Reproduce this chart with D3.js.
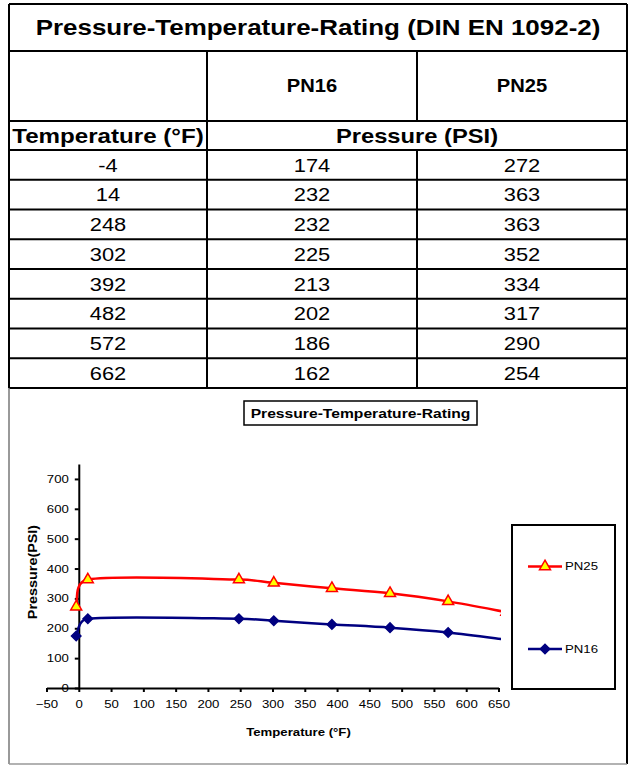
<!DOCTYPE html>
<meta charset="utf-8">
<head>
<style type='text/css'>
  body {
    margin: 0;
    background: #fff;
    font-family: 'Liberation Sans', Arial, sans-serif;
  }
  .grid line, .grid rect {
    stroke: #000;
    stroke-width: 2;
    fill: none;
  }
  .axis path, .axis line {
    stroke: #000;
    stroke-width: 2;
  }
  .axis text {
    font-size: 11px;
    fill: #000;
  }
</style>
</head>
<body>
<script src="https://d3js.org/d3.v7.min.js"></script>
<script>
// table / chart data
var temps = [-4, 14, 248, 302, 392, 482, 572, 662];
var pn16 = [174, 232, 232, 225, 213, 202, 186, 162];
var pn25 = [272, 363, 363, 352, 334, 317, 290, 254];
var seriesNames = ["PN16", "PN25"];
var xTicks = [-50, 0, 50, 100, 150, 200, 250, 300, 350, 400, 450, 500, 550, 600, 650];
var yTicks = [0, 100, 200, 300, 400, 500, 600, 700];

var width = 633,
    height = 767;

// excel picture looks stretched sideways, so text gets a little x scale
var sx = 1.2;

var svg = d3.select("body").append("svg")
    .attr("width", width)
    .attr("height", height);

svg.append("rect").attr("width", width).attr("height", height).attr("fill", "#fff");

// column and row edges of the table
var colX = [9, 207, 417, 627];
var rowY = [4, 51, 121, 150];
var rowH = 29.75;
temps.forEach(function(d, i) { rowY.push(150 + (i + 1) * rowH); });
var chartBottom = 764;

function label(g, x, y, txt, size, bold, scaleX) {
  return g.append("text")
      .attr("transform", "translate(" + x + "," + y + ") scale(" + (scaleX || sx) + ",1)")
      .attr("text-anchor", "middle")
      .attr("dy", "0.35em")
      .attr("font-size", size + "px")
      .attr("font-weight", bold ? "bold" : "normal")
      .text(txt);
}

// grid lines
var grid = svg.append("g").attr("class", "grid");
rowY.forEach(function(y, i) {
  grid.append("line").attr("x1", colX[0]).attr("x2", colX[3]).attr("y1", y).attr("y2", y);
});
// vertical lines, skipping the title row and the merged pressure cell
grid.append("line").attr("x1", colX[1]).attr("x2", colX[1]).attr("y1", rowY[1]).attr("y2", rowY[rowY.length - 1]);
grid.append("line").attr("x1", colX[2]).attr("x2", colX[2]).attr("y1", rowY[1]).attr("y2", rowY[2]);
grid.append("line").attr("x1", colX[2]).attr("x2", colX[2]).attr("y1", rowY[3]).attr("y2", rowY[rowY.length - 1]);
grid.append("line").attr("x1", colX[0]).attr("x2", colX[0]).attr("y1", rowY[0]).attr("y2", rowY[rowY.length - 1]);
grid.append("line").attr("x1", colX[3]).attr("x2", colX[3]).attr("y1", rowY[0]).attr("y2", chartBottom);
// chart cell edges are thinner and grey
svg.append("line").attr("x1", colX[0]).attr("x2", colX[0]).attr("y1", rowY[rowY.length - 1]).attr("y2", chartBottom)
    .attr("stroke", "#777").attr("stroke-width", 1.5);
svg.append("line").attr("x1", colX[0]).attr("x2", colX[3]).attr("y1", chartBottom).attr("y2", chartBottom)
    .attr("stroke", "#999").attr("stroke-width", 1.5);

// table texts
var tbl = svg.append("g").attr("fill", "#000");
label(tbl, (colX[0] + colX[3]) / 2, (rowY[0] + rowY[1]) / 2, "Pressure-Temperature-Rating (DIN EN 1092-2)", 22, true, 1.18);
seriesNames.forEach(function(s, i) {
  label(tbl, (colX[i + 1] + colX[i + 2]) / 2, (rowY[1] + rowY[2]) / 2, s, 18, true, 1.12);
});
label(tbl, (colX[0] + colX[1]) / 2, (rowY[2] + rowY[3]) / 2, "Temperature (°F)", 21, true, 1.15);
label(tbl, (colX[1] + colX[3]) / 2, (rowY[2] + rowY[3]) / 2, "Pressure (PSI)", 21, true, 1.13);
temps.forEach(function(t, i) {
  var cy = (rowY[3 + i] + rowY[4 + i]) / 2;
  label(tbl, (colX[0] + colX[1]) / 2, cy, t, 19, false, 1.15);
  label(tbl, (colX[1] + colX[2]) / 2, cy, pn16[i], 19, false, 1.15);
  label(tbl, (colX[2] + colX[3]) / 2, cy, pn25[i], 19, false, 1.15);
});

// ---- chart ----
var x = d3.scaleLinear().domain([-50, 650]).range([46.5, 498.5]);
var y = d3.scaleLinear().domain([0, 750]).range([688, 464]);

var chart = svg.append("g");

// chart title box
chart.append("rect")
    .attr("x", 244).attr("y", 401).attr("width", 233).attr("height", 24)
    .attr("fill", "#fff").attr("stroke", "#000").attr("stroke-width", 1.5);
label(chart, 360.5, 413, "Pressure-Temperature-Rating", 13.5, true, 1.16);

chart.append("defs").append("clipPath").attr("id", "plot")
  .append("rect").attr("x", 30).attr("y", 440).attr("width", 471).attr("height", 260);

var xAxis = chart.append("g")
    .attr("class", "axis")
    .attr("transform", "translate(0," + y(0) + ")")
    .call(d3.axisBottom(x).tickValues(xTicks).tickSizeInner(4).tickSizeOuter(0).tickPadding(8));

var yAxis = chart.append("g")
    .attr("class", "axis")
    .attr("transform", "translate(" + x(0) + ",0)")
    .call(d3.axisLeft(y).tickValues(yTicks).tickSizeInner(4).tickSizeOuter(0).tickPadding(6));

chart.selectAll(".axis text")
    .attr("transform", "scale(" + sx + ",1)")
    .attr("x", function() { return +d3.select(this).attr("x") / sx; });
xAxis.selectAll(".tick text").attr("x", 0);

label(chart, 298.5, 732, "Temperature (°F)", 11, true);
chart.append("text")
    .attr("transform", "translate(33,572) rotate(-90) scale(1.15,1)")
    .attr("text-anchor", "middle")
    .attr("dy", "0.35em")
    .attr("font-size", "12.5px")
    .attr("font-weight", "bold")
    .text("Pressure(PSI)");

// excel style smoothing: bezier with 1/6 tangents, shortened on short segments
function dist(a, b) { return Math.hypot(b[0] - a[0], b[1] - a[1]); }
function excelSmooth(context) {
  var pts;
  return {
    areaStart: function() {},
    areaEnd: function() {},
    lineStart: function() { pts = []; },
    point: function(px, py) { pts.push([+px, +py]); },
    lineEnd: function() {
      var n = pts.length;
      if (!n) return;
      context.moveTo(pts[0][0], pts[0][1]);
      for (var i = 0; i < n - 1; i++) {
        var p0 = pts[Math.max(i - 1, 0)], p1 = pts[i], p2 = pts[i + 1], p3 = pts[Math.min(i + 2, n - 1)];
        var d12 = dist(p1, p2), d02 = dist(p0, p2), d13 = dist(p1, p3);
        var f0 = (d02 / 6 < d12 / 2 || !d02) ? 1 / 6 : (d12 / 2) / d02;
        var f1 = (d13 / 6 < d12 / 2 || !d13) ? 1 / 6 : (d12 / 2) / d13;
        context.bezierCurveTo(
          p1[0] + (p2[0] - p0[0]) * f0, p1[1] + (p2[1] - p0[1]) * f0,
          p2[0] - (p3[0] - p1[0]) * f1, p2[1] - (p3[1] - p1[1]) * f1,
          p2[0], p2[1]);
      }
    }
  };
}

var line = d3.line()
    .x(function(d) { return x(d[0]); })
    .y(function(d) { return y(d[1]); })
    .curve(excelSmooth);

var series = [
  {name: "PN16", values: d3.zip(temps, pn16), color: "#000080", fill: "#000080", shape: d3.symbolSquare, size: 45, rot: 45},
  {name: "PN25", values: d3.zip(temps, pn25), color: "#ff0000", fill: "#ffff00", shape: d3.symbolTriangle, size: 52, rot: 0}
];

var plot = chart.append("g").attr("clip-path", "url(#plot)");

series.forEach(function(s) {
  plot.append("path")
      .datum(s.values)
      .attr("fill", "none")
      .attr("stroke", s.color)
      .attr("stroke-width", 2.5)
      .attr("d", line);

  plot.selectAll(null)
      .data(s.values)
    .enter().append("path")
      .attr("transform", function(d) { return "translate(" + x(d[0]) + "," + y(d[1]) + ") rotate(" + s.rot + ")"; })
      .attr("d", d3.symbol().type(s.shape).size(s.size))
      .attr("fill", s.fill)
      .attr("stroke", s.color)
      .attr("stroke-width", 1.5);
});

// legend
var legend = chart.append("g");
legend.append("rect")
    .attr("x", 512).attr("y", 525).attr("width", 103).attr("height", 164)
    .attr("fill", "#fff").attr("stroke", "#000").attr("stroke-width", 2);

var legendY = {PN25: 566.5, PN16: 649};
series.forEach(function(s) {
  var ly = legendY[s.name];
  legend.append("line")
      .attr("x1", 528).attr("x2", 562).attr("y1", ly).attr("y2", ly)
      .attr("stroke", s.color).attr("stroke-width", 2.5);
  legend.append("path")
      .attr("transform", "translate(545," + ly + ") rotate(" + s.rot + ")")
      .attr("d", d3.symbol().type(s.shape).size(s.size))
      .attr("fill", s.fill)
      .attr("stroke", s.color)
      .attr("stroke-width", 1.5);
  legend.append("text")
      .attr("transform", "translate(565," + ly + ") scale(" + sx + ",1)")
      .attr("dy", "0.35em")
      .attr("font-size", "11px")
      .text(s.name);
});
</script>
</body>
